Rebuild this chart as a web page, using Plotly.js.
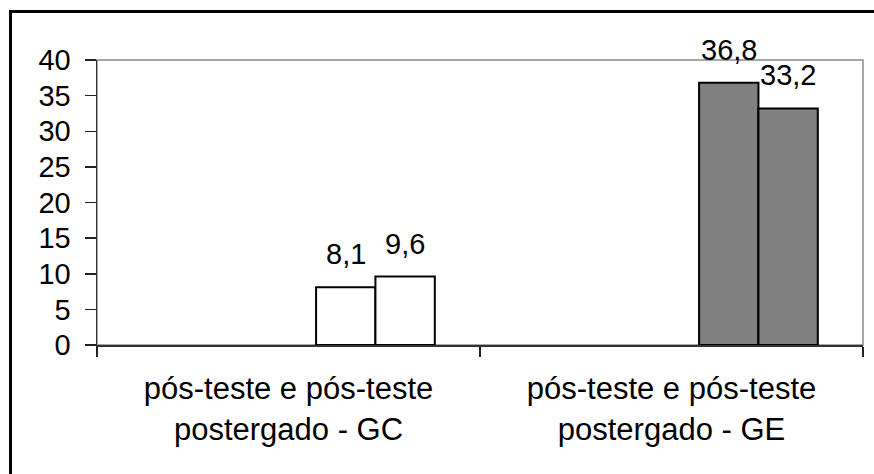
<!DOCTYPE html>
<html>
<head>
<meta charset="utf-8">
<script src="https://cdn.plot.ly/plotly-3.0.1.min.js"></script>
<style>
  html, body { margin: 0; padding: 0; background: #fff; overflow: hidden; }
  #wrap { position: relative; width: 874px; height: 474px; }
  #chart { width: 874px; height: 474px; }
  #frame { position: absolute; left: 9px; top: 10px; width: 900px; height: 500px;
           border-left: 3px solid #000; border-top: 3px solid #000; pointer-events: none; }
</style>
</head>
<body>
<div id="wrap">
  <div id="chart"></div>
  <div id="frame"></div>
</div>
<script>
// ---- data ----
const categories = [
  'pós-teste e pós-teste<br>postergado - GC',
  'pós-teste e pós-teste<br>postergado - GE'
];
const posTeste = [8.1, 36.8];
const posTestePostergado = [9.6, 33.2];
const barFill = ['#ffffff', '#808080'];
const yTickVals = [0, 5, 10, 15, 20, 25, 30, 35, 40];

// ---- chart ----
const FONT = 'Liberation Sans, Arial, sans-serif';
const barWidth = 0.155;
const series = [
  { values: posTeste, offset: 0.072 },
  { values: posTestePostergado, offset: 0.072 + 0.155 }
];

const traces = series.map(s => ({
  type: 'bar',
  x: categories,
  y: s.values,
  width: barWidth,
  offset: s.offset,
  marker: { color: barFill, line: { color: '#000000', width: 2 } },
  hoverinfo: 'skip'
}));

const annotations = [];
series.forEach(s => {
  s.values.forEach((v, i) => {
    annotations.push({
      x: i + s.offset + barWidth / 2,
      y: v,
      xref: 'x', yref: 'y',
      text: v.toFixed(1).replace('.', ','),
      showarrow: false,
      xanchor: 'center', yanchor: 'bottom',
      yshift: 15,
      font: { family: FONT, size: 29, color: '#000' }
    });
  });
});

const layout = {
  width: 874, height: 474,
  margin: { l: 97, r: 11, t: 60, b: 129, pad: 0 },
  paper_bgcolor: '#ffffff',
  plot_bgcolor: '#ffffff',
  showlegend: false,
  barmode: 'overlay',
  font: { family: FONT, size: 28, color: '#000' },
  xaxis: {
    type: 'category',
    range: [-0.5, 1.5],
    tickson: 'boundaries',
    ticks: 'outside', ticklen: 10, tickwidth: 1.5, tickcolor: '#222',
    showline: true, linecolor: '#333', linewidth: 2,
    showgrid: false, zeroline: false,
    tickfont: { family: FONT, size: 31, color: '#000' },
    ticklabelstandoff: 15,
    fixedrange: true
  },
  yaxis: {
    range: [0, 40],
    tickvals: yTickVals,
    ticks: 'outside', ticklen: 11, tickwidth: 1.5, tickcolor: '#222',
    showline: true, linecolor: '#333', linewidth: 1.5,
    showgrid: false, zeroline: false,
    tickfont: { family: FONT, size: 29, color: '#000' },
    ticklabelstandoff: 8,
    fixedrange: true
  },
  shapes: [{
    type: 'rect', xref: 'paper', yref: 'paper',
    x0: 0, x1: 1, y0: 0, y1: 1,
    line: { color: '#8a8a8a', width: 1.5 },
    layer: 'below'
  }],
  annotations: annotations
};

Plotly.newPlot('chart', traces, layout, { displayModeBar: false, staticPlot: true });
</script>
</body>
</html>
